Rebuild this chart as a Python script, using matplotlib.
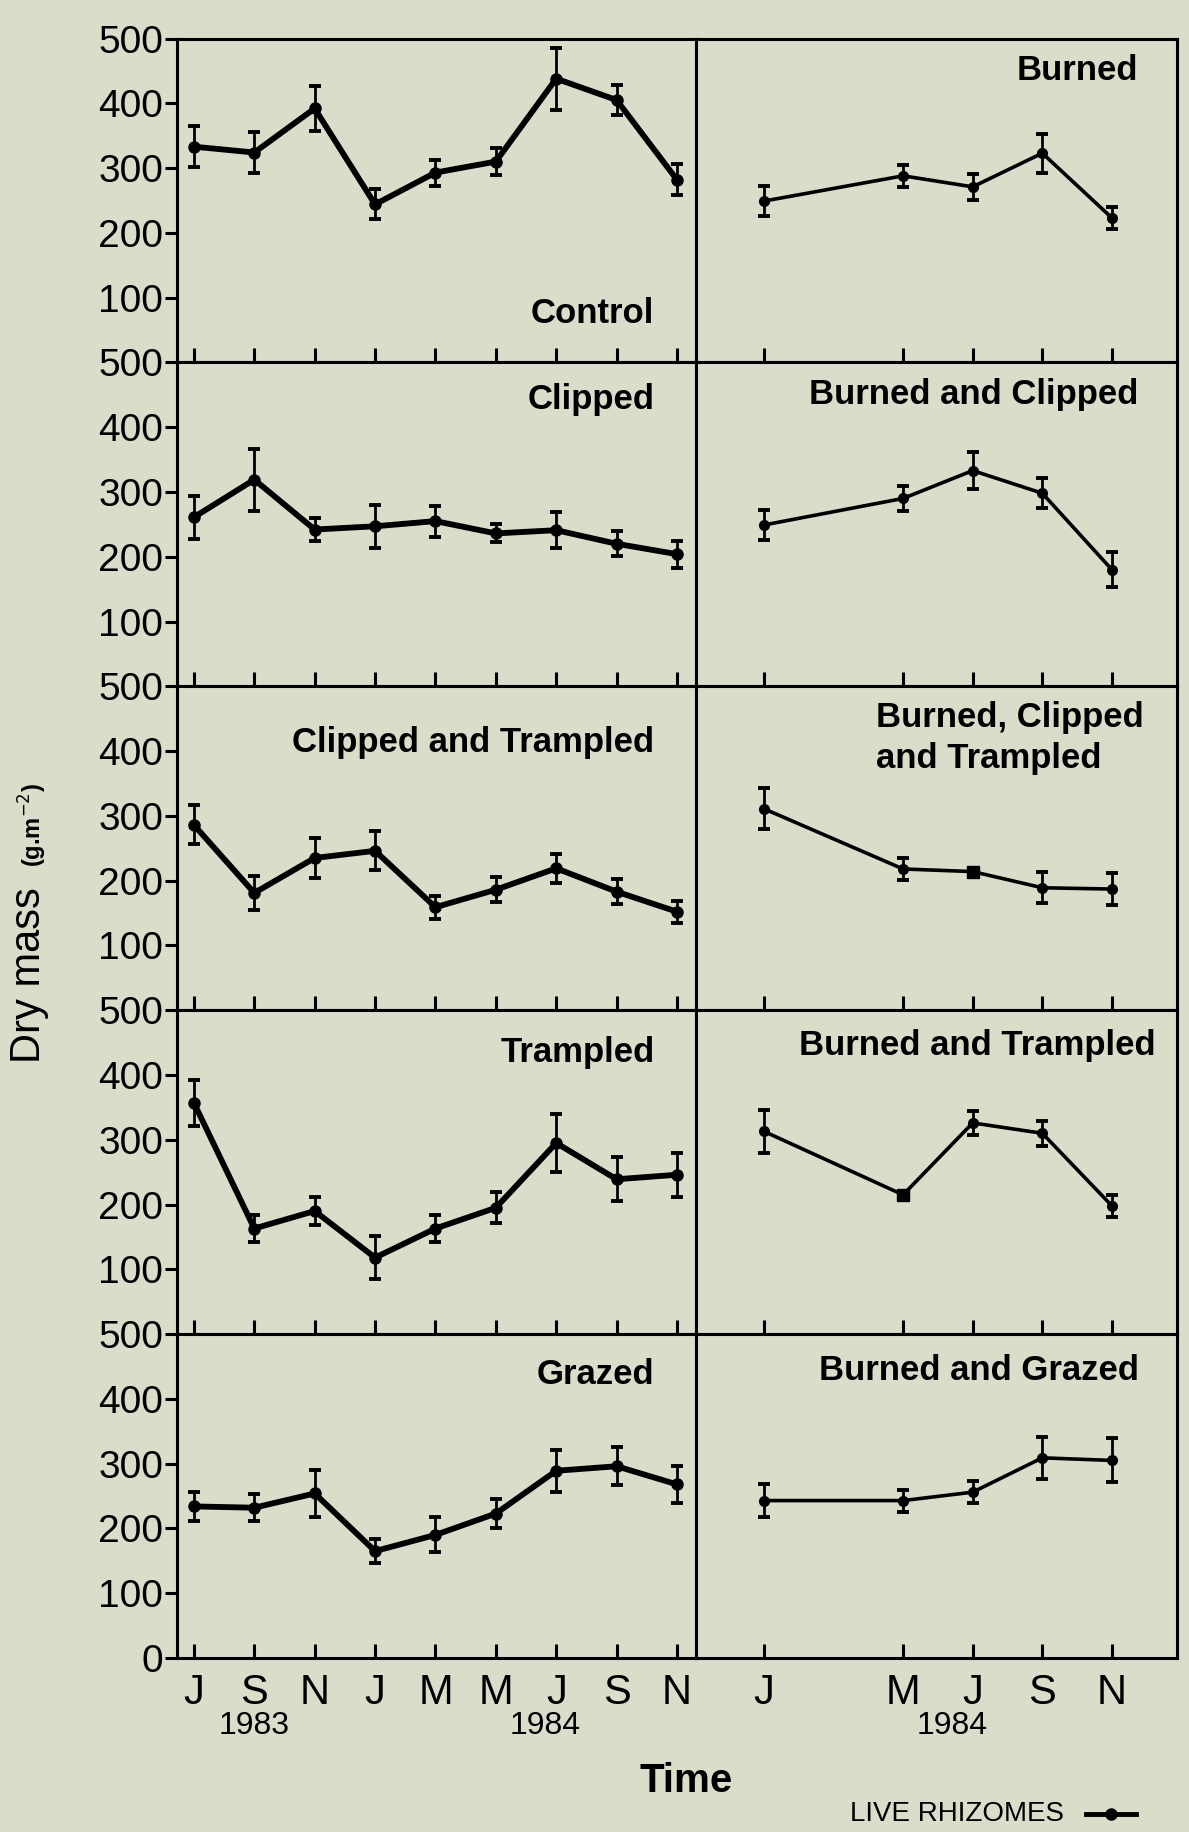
import matplotlib
matplotlib.use('Agg')
import matplotlib.pyplot as plt
from matplotlib.lines import Line2D

plt.rcParams['font.family'] = ['Liberation Sans', 'DejaVu Sans']

# months (1 = Jan 1984 on the right, left runs Jul 1983 .. Nov 1984)
left_months = [7, 9, 11, 13, 15, 17, 19, 21, 23]
left_month_labels = ['J', 'S', 'N', 'J', 'M', 'M', 'J', 'S', 'N']
right_months = [1, 5, 7, 9, 11]
right_month_labels = ['J', 'M', 'J', 'S', 'N']

left_titles = ['Control', 'Clipped', 'Clipped and Trampled', 'Trampled', 'Grazed']
right_titles = ['Burned', 'Burned and Clipped', 'Burned, Clipped\nand Trampled',
                'Burned and Trampled', 'Burned and Grazed']

# dry mass of live rhizomes (g.m-2), mean and error bar half length
control_mean = [333, 324, 392, 244, 293, 310, 438, 405, 282]
control_err = [32, 32, 35, 23, 20, 21, 48, 23, 24]
clipped_mean = [261, 319, 242, 247, 255, 236, 241, 220, 204]
clipped_err = [33, 48, 18, 33, 24, 14, 28, 19, 21]
clip_tramp_mean = [286, 181, 235, 246, 159, 186, 219, 183, 152]
clip_tramp_err = [30, 26, 31, 30, 18, 19, 22, 19, 17]
trampled_mean = [357, 163, 190, 118, 163, 195, 295, 239, 246]
trampled_err = [36, 21, 22, 33, 21, 24, 45, 34, 34]
grazed_mean = [234, 232, 254, 165, 190, 223, 289, 296, 268]
grazed_err = [23, 21, 36, 18, 27, 22, 32, 29, 28]

burned_mean = [249, 288, 271, 323, 223]
burned_err = [23, 17, 20, 30, 17]
burned_clipped_mean = [249, 290, 333, 298, 180]
burned_clipped_err = [23, 19, 28, 23, 27]
burned_clip_tramp_mean = [311, 218, 214, 189, 187]
burned_clip_tramp_err = [32, 17, 6, 24, 25]
burned_tramp_mean = [313, 215, 326, 310, 198]
burned_tramp_err = [33, 6, 18, 19, 17]
burned_grazed_mean = [243, 243, 256, 309, 305]
burned_grazed_err = [26, 17, 17, 32, 34]

left_series = [(control_mean, control_err), (clipped_mean, clipped_err),
               (clip_tramp_mean, clip_tramp_err), (trampled_mean, trampled_err),
               (grazed_mean, grazed_err)]
right_series = [(burned_mean, burned_err), (burned_clipped_mean, burned_clipped_err),
                (burned_clip_tramp_mean, burned_clip_tramp_err),
                (burned_tramp_mean, burned_tramp_err),
                (burned_grazed_mean, burned_grazed_err)]

# points drawn as a small square (no visible error bar)
square_points = {(2, 2), (3, 1)}

# vertical spot of each panel name, in axes fraction
left_title_y = [0.15, 0.885, 0.827, 0.87, 0.874]
right_title_y = [0.9, 0.9, 0.84, 0.89, 0.888]

BG = '#dcdccb'
W, H = 1189, 1832
fig = plt.figure(figsize=(W / 100, H / 100), dpi=100, facecolor=BG)

top_px, bottom_px = 38.5, 1658
row_h = (bottom_px - top_px) / 5
lx0, lx1 = 177, 696
rx0, rx1 = 696, 1177


def rect(x0, x1, row):
    y_top = top_px + row * row_h
    return [x0 / W, 1 - (y_top + row_h) / H, (x1 - x0) / W, row_h / H]


def style(ax, months, labels, last):
    ax.set_facecolor(BG)
    for s in ax.spines.values():
        s.set_linewidth(2.2)
    ax.set_ylim(0, 500)
    ax.set_xticks(months)
    ax.tick_params(axis='x', direction='in', length=10, width=2.2, pad=11,
                   labelsize=30, top=False)
    if last:
        ax.set_xticklabels(labels)
    else:
        ax.set_xticklabels([])


for row in range(5):
    last = row == 4
    # left panel
    ax = fig.add_axes(rect(lx0, lx1, row))
    style(ax, left_months, left_month_labels, last)
    ax.set_xlim(6.44, 23.63)
    yt = [0, 100, 200, 300, 400, 500] if last else [100, 200, 300, 400, 500]
    ax.set_yticks(yt)
    ax.set_yticklabels([str(v) for v in yt])
    ax.tick_params(axis='y', direction='out', length=9, width=2.2, pad=1,
                   labelsize=28)
    m, e = left_series[row]
    ax.errorbar(left_months, m, yerr=e, color='black', lw=4.2, marker='o',
                ms=8, elinewidth=2, capsize=4.5, capthick=2.8, zorder=3)
    ax.text(0.92, left_title_y[row], left_titles[row], transform=ax.transAxes,
            ha='right', va='center', fontsize=25, fontweight='bold')
    if last:
        ax.text(9, -0.21, '1983', ha='center', va='center', fontsize=23,
                transform=ax.get_xaxis_transform())
        ax.text(18.65, -0.21, '1984', ha='center', va='center', fontsize=23,
                transform=ax.get_xaxis_transform())

    # right panel
    ax = fig.add_axes(rect(rx0, rx1, row))
    style(ax, right_months, right_month_labels, last)
    ax.set_xlim(-0.95, 12.87)
    ax.set_yticks([])
    m, e = right_series[row]
    ax.errorbar(right_months, m, yerr=e, color='black', lw=2.6, marker='o',
                ms=7, elinewidth=2, capsize=4.5, capthick=2.8, zorder=3)
    for (r, i) in square_points:
        if r == row:
            ax.plot(right_months[i], m[i], marker='s', ms=9, color='black', zorder=4)
    if row == 2:
        ax.text(0.375, right_title_y[row], right_titles[row], transform=ax.transAxes,
                ha='left', va='center', fontsize=25, fontweight='bold',
                linespacing=1.3)
    else:
        ax.text(0.955 if row == 3 else 0.92, right_title_y[row],
                right_titles[row], transform=ax.transAxes,
                ha='right', va='center', fontsize=25, fontweight='bold')
    if last:
        ax.text(6.4, -0.21, '1984', ha='center', va='center', fontsize=23,
                transform=ax.get_xaxis_transform())

# axis titles
fig.text(29 / W, 1 - 975 / H, 'Dry mass', rotation=90, ha='center', va='center',
         fontsize=30)
fig.text(33 / W, 1 - 825 / H, '(g.m$^{-2}$)', rotation=90, ha='center', va='center',
         fontsize=17, fontweight='bold')
fig.text(686 / W, 1 - 1781 / H, 'Time', ha='center', va='center', fontsize=29,
         fontweight='bold')

# legend
fig.text(850 / W, 1 - 1814 / H, 'LIVE RHIZOMES', ha='left', va='center', fontsize=20)
fig.add_artist(Line2D([1086 / W, 1111 / W, 1136 / W], [1 - 1814 / H] * 3,
                      transform=fig.transFigure, color='black', lw=3.5,
                      marker='o', ms=8, markevery=[1]))

fig.savefig('out.png', dpi=100, facecolor=BG)
